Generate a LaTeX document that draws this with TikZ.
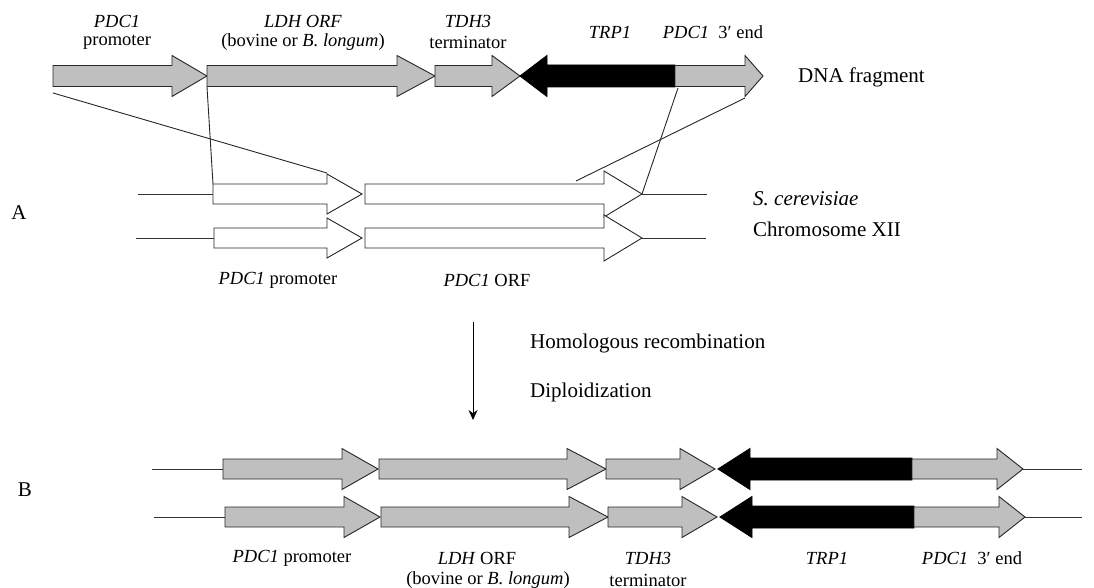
\documentclass[tikz,border=0pt]{standalone}
\usepackage{fontspec}
\setmainfont{Liberation Serif}
\usetikzlibrary{arrows.meta}
\tikzset{
  genefill/.style={draw=black!85, fill=black!25, line width=0.9pt, line join=miter},
  markerfill/.style={draw=black, fill=black, line width=0.9pt},
  chromfill/.style={draw=black!85, fill=white, line width=0.9pt},
  lbl/.style={inner sep=0pt, font=\fontsize{18.5}{20}\selectfont},
  big/.style={inner sep=0pt, font=\fontsize{21}{23}\selectfont},
  strand/.style={draw=black!80, line width=0.9pt},
  link/.style={draw=black!85, line width=0.9pt},
}
% forward arrow: x0, xhead, xtip, ycenter, body half, head half, style
\newcommand\fwdgene[7]{%
  \path[#7] (#1,{#4-#5}) -- (#2,{#4-#5}) -- (#2,{#4-#6}) -- (#3,#4) -- (#2,{#4+#6}) -- (#2,{#4+#5}) -- (#1,{#4+#5}) -- cycle;}
% reverse arrow: xtip, xhead, xend, ycenter, body half, head half, style
\newcommand\revgene[7]{%
  \path[#7] (#1,#4) -- (#2,{#4-#6}) -- (#2,{#4-#5}) -- (#3,{#4-#5}) -- (#3,{#4+#5}) -- (#2,{#4+#5}) -- (#2,{#4+#6}) -- cycle;}
\begin{document}
\begin{tikzpicture}[x=1pt,y=-1pt]
\useasboundingbox (0,0) rectangle (1094,588);

% ---------- DNA fragment ----------
\fwdgene{53}{172}{207}{76}{10.5}{20.5}{genefill}
\fwdgene{207}{397}{435}{76}{10.5}{20.5}{genefill}
\fwdgene{435}{492}{520}{76}{10.5}{20.5}{genefill}
\revgene{520}{547}{675}{76}{11}{20.5}{markerfill}
\fwdgene{675}{745}{763}{76}{10.5}{20.5}{genefill}

\node[lbl] (fp1) at (117,21) {\itshape PDC1};
\node[lbl] (fp2) at (117,42) {promoter};
\node[lbl] (fl1) at (303,21) {\itshape LDH ORF};
\node[lbl] (fl2) at (303,42) {(bovine or \textit{B. longum})};
\node[lbl] (ft1) at (468,21) {\itshape TDH3};
\node[lbl] (ft2) at (468,42) {terminator};
\node[lbl] (ftrp) at (610,32) {\itshape TRP1};
\node[lbl] (fend) at (713,32) {\textit{PDC1}\ \ 3′ end};
\node[big, anchor=west] (dna) at (798,77) {DNA fragment};

% ---------- Chromosome XII (A) ----------
\draw[strand] (138,194) coordinate (s1a) -- (213,194) coordinate (s1b);
\draw[strand] (642,194) coordinate (s1c) -- (707,194) coordinate (s1d);
\draw[strand] (136,238) coordinate (s2a) -- (214,238) coordinate (s2b);
\draw[strand] (642,238) coordinate (s2c) -- (706,238) coordinate (s2d);
\fwdgene{213}{327}{362}{194}{10}{20}{chromfill}
\fwdgene{365}{604}{642}{194}{10}{23}{chromfill}
\fwdgene{214}{327}{362}{238}{10}{20}{chromfill}
\fwdgene{365}{604}{642}{238}{10}{23}{chromfill}

\node[lbl] (cp) at (278,280) {\textit{PDC1} promoter};
\node[lbl] (co) at (487,280) {\textit{PDC1} ORF};
\node[big, anchor=west] (sc) at (753,199) {\textit{S. cerevisiae}};
\node[big, anchor=west] (cx) at (753,229) {Chromosome XII};
\node[big] (A) at (19,213) {A};

% ---------- crossover lines ----------
\coordinate (f1) at (53,93);
\coordinate (c1) at (327,173);
\coordinate (f2) at (207,87);
\coordinate (c2) at (213,184);
\coordinate (f3) at (678,88);
\coordinate (c3) at (642,194);
\coordinate (f4) at (745,98);
\coordinate (c4) at (576,181);
\draw[link] (f1) -- (c1);
\draw[link] (f2) -- (c2);
\draw[link] (f3) -- (c3);
\draw[link] (f4) -- (c4);

% ---------- process arrow ----------
\coordinate (p1) at (473,322);
\coordinate (p2) at (473,420);
\draw[line width=0.9pt, -{Stealth[length=10pt,width=9pt]}] (p1) -- (p2);
\node[big, anchor=west] (hr) at (530,343) {Homologous recombination};
\node[big, anchor=west] (dp) at (530,392) {Diploidization};

% ---------- Result (B) ----------
\draw[strand] (152,469) coordinate (t1a) -- (223,469) coordinate (t1b);
\draw[strand] (1023,469) coordinate (t1c) -- (1082,469) coordinate (t1d);
\fwdgene{223}{342}{378}{469}{10}{20.5}{genefill}
\fwdgene{379}{567}{606}{469}{10}{20.5}{genefill}
\fwdgene{606}{680}{715}{469}{10}{20.5}{genefill}
\revgene{718}{750}{912}{469}{11}{20.5}{markerfill}
\fwdgene{912}{997}{1023}{469}{10}{20.5}{genefill}

\draw[strand] (154,517) coordinate (t2a) -- (225,517) coordinate (t2b);
\draw[strand] (1025,517) coordinate (t2c) -- (1082,517) coordinate (t2d);
\fwdgene{225}{344}{380}{517}{10}{20.5}{genefill}
\fwdgene{381}{569}{608}{517}{10}{20.5}{genefill}
\fwdgene{608}{682}{717}{517}{10}{20.5}{genefill}
\revgene{720}{752}{914}{517}{11}{20.5}{markerfill}
\fwdgene{914}{999}{1025}{517}{10}{20.5}{genefill}

\node[big] (B) at (25,490) {B};
\node[lbl] (bp) at (292,558) {\textit{PDC1} promoter};
\node[lbl] (bl1) at (477,558) {\textit{LDH} ORF};
\node[lbl] (bl2) at (488,580) {(bovine or \textit{B. longum})};
\node[lbl] (bt1) at (648,558) {\itshape TDH3};
\node[lbl] (bt2) at (648,580) {terminator};
\node[lbl] (btrp) at (827,558) {\itshape TRP1};
\node[lbl] (bend) at (972,558) {\textit{PDC1}\ \ 3′ end};
\end{tikzpicture}
\end{document}
